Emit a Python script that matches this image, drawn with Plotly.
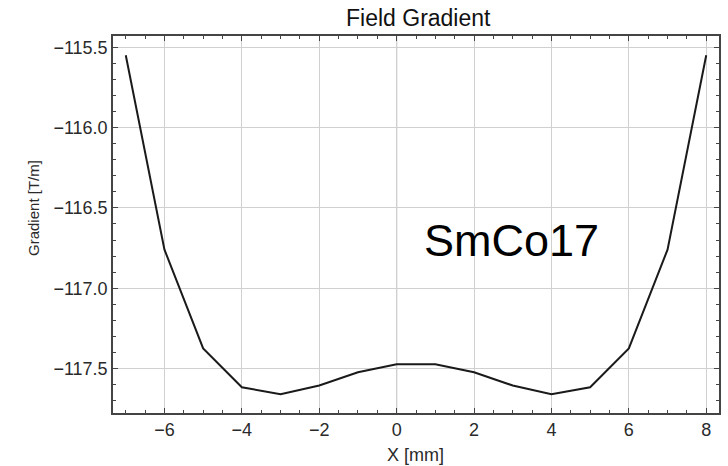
import plotly.graph_objects as go

x_mm = [-7, -6, -5, -4, -3, -2, -1, 0, 1, 2, 3, 4, 5, 6, 7, 8]
gradient = [-115.55, -116.76, -117.375, -117.617, -117.66, -117.606, -117.523, -117.473,
            -117.473, -117.523, -117.606, -117.66, -117.617, -117.375, -116.76, -115.55]
x_ticks = [-6, -4, -2, 0, 2, 4, 6, 8]
y_ticks = [-115.5, -116.0, -116.5, -117.0, -117.5]

FONT = "Liberation Sans, Arial, sans-serif"
TICK_COLOR = "#2a2a2a"
FRAME = "#444444"

fig = go.Figure()
fig.add_trace(go.Scatter(x=x_mm, y=gradient, mode="lines",
                         line=dict(color="#1a1a1a", width=2), showlegend=False))

# x=0 axis line
fig.add_shape(type="line", xref="x", yref="paper", x0=0, x1=0, y0=0, y1=1,
              line=dict(color="#888888", width=1), layer="below")

fig.update_layout(
    width=728, height=466,
    margin=dict(l=113, r=9, t=36, b=53),
    paper_bgcolor="white", plot_bgcolor="white",
    font=dict(family=FONT, color=TICK_COLOR),
    title=dict(text="Field Gradient", x=0.5745, xanchor="center", y=0.962, yanchor="middle",
               font=dict(size=23, color="#111111", family=FONT)),
    xaxis=dict(
        range=[-7.33, 8.33], tickvals=x_ticks,
        ticktext=[("−" + str(abs(v))) if v < 0 else str(v) for v in x_ticks],
        ticks="inside", ticklen=5, tickwidth=1, tickcolor=FRAME,
        minor=dict(ticks="inside", ticklen=3, dtick=0.5, tick0=0, tickcolor=FRAME, showgrid=False),
        showgrid=True, gridcolor="#d0d0d0", gridwidth=1,
        showline=True, linecolor=FRAME, linewidth=1.5, mirror="allticks",
        zeroline=False, automargin=False,
        tickfont=dict(size=18, color=TICK_COLOR),
    ),
    yaxis=dict(
        range=[-117.777, -115.43], tickvals=y_ticks,
        ticktext=["−%.1f" % abs(v) for v in y_ticks],
        ticks="inside", ticklen=5, tickwidth=1, tickcolor=FRAME,
        minor=dict(ticks="inside", ticklen=3, dtick=0.1, tick0=-115.5, tickcolor=FRAME, showgrid=False),
        showgrid=True, gridcolor="#d0d0d0", gridwidth=1,
        showline=True, linecolor=FRAME, linewidth=1.5, mirror="allticks",
        zeroline=False, automargin=False,
        tickfont=dict(size=18, color=TICK_COLOR),
    ),
    annotations=[
        dict(text="SmCo17", x=2.97, y=-116.70, xref="x", yref="y",
             showarrow=False, xanchor="center", yanchor="middle",
             font=dict(size=45, color="#000000", family=FONT)),
        dict(text="Gradient [T/m]", x=0, y=0.5438, xref="paper", yref="paper",
             xshift=-79, textangle=-90, showarrow=False,
             xanchor="center", yanchor="middle",
             font=dict(size=15, color=TICK_COLOR, family=FONT)),
        dict(text="X [mm]", x=0.5, y=0, xref="paper", yref="paper",
             yshift=-42, xshift=-1, showarrow=False,
             xanchor="center", yanchor="middle",
             font=dict(size=18, color=TICK_COLOR, family=FONT)),
    ],
)

fig.write_html("out.html")
